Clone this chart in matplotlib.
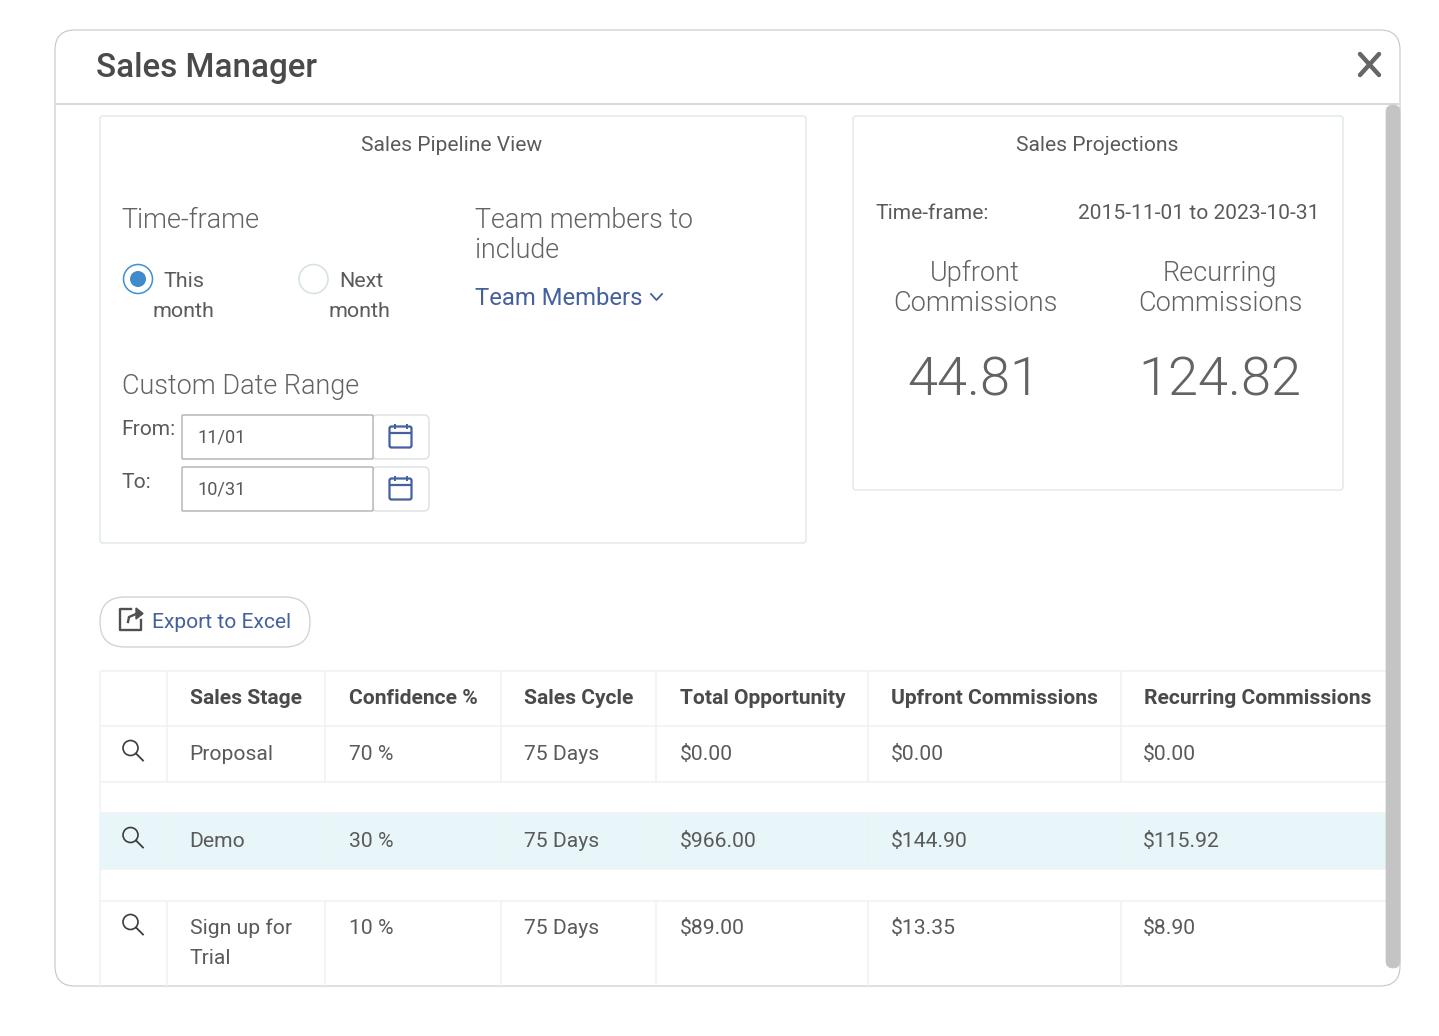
import matplotlib
matplotlib.use('Agg')
import matplotlib.pyplot as plt
from matplotlib.patches import FancyBboxPatch, Rectangle, Circle

plt.rcParams['font.family'] = ['Roboto', 'DejaVu Sans']

# table contents
columns = ['Sales Stage', 'Confidence %', 'Sales Cycle', 'Total Opportunity',
           'Upfront Commissions', 'Recurring Commissions']
stages = ['Proposal', 'Demo', 'Sign up for\nTrial']
confidence = ['70 %', '30 %', '10 %']
cycle = ['75 Days', '75 Days', '75 Days']
opportunity = ['$0.00', '$966.00', '$89.00']
upfront = ['$0.00', '$144.90', '$13.35']
recurring = ['$0.00', '$115.92', '$8.90']

upfront_total = '44.81'
recurring_total = '124.82'
projection_range = '2015-11-01 to 2023-10-31'

W, H = 1439, 1036
DARK = '#4a4a4a'
TEXT = '#5a5a5a'
LIGHT = '#636363'
BLUE = '#45609e'
GRID = '#edf3f3'

fig = plt.figure(figsize=(W / 100, H / 100), dpi=100)
ax = fig.add_axes([0, 0, 1, 1])
ax.set_xlim(0, W)
ax.set_ylim(H, 0)
ax.axis('off')


def px(size):
    return size * 0.72


def label(x, y, s, size=20.5, color=TEXT, weight='normal', ha='left', **kw):
    ax.text(x, y, s, fontsize=px(size), color=color, fontweight=weight, ha=ha,
            va='baseline', **kw)


def box(x0, y0, x1, y1, r=4, fc='white', ec='#e0e7eb', lw=1.0, z=1):
    p = FancyBboxPatch((x0 + r, y0 + r), x1 - x0 - 2 * r, y1 - y0 - 2 * r,
                       boxstyle='round,pad=%d,rounding_size=%d' % (r, r),
                       fc=fc, ec=ec, lw=lw, zorder=z)
    ax.add_patch(p)


def hline(x0, x1, y, color=GRID, lw=1.1, z=3):
    ax.plot([x0, x1], [y, y], color=color, lw=lw, zorder=z, solid_capstyle='butt')


def vline(x, y0, y1, color=GRID, lw=1.1, z=3):
    ax.plot([x, x], [y0, y1], color=color, lw=lw, zorder=z, solid_capstyle='butt')


def calendar(cx, cy):
    ax.add_patch(FancyBboxPatch((cx - 10, cy - 9), 20, 19, boxstyle='round,pad=1,rounding_size=2',
                                fc='none', ec=BLUE, lw=1.6, zorder=5))
    hline(cx - 11, cx + 11, cy - 4, BLUE, 1.6, 5)
    vline(cx - 6, cy - 13, cy - 8, BLUE, 1.4, 5)
    vline(cx + 6, cy - 13, cy - 8, BLUE, 1.4, 5)


def magnifier(cx, cy):
    ax.add_patch(Circle((cx - 2, cy - 3), 7.5, fc='none', ec='#3c3c3c', lw=1.2, zorder=5))
    ax.plot([cx + 3.5, cx + 10.5], [cy + 2.5, cy + 9.5], color='#3c3c3c', lw=1.3, zorder=5)


# modal frame
box(55, 30, 1400, 986, r=20, ec='#c6c6c6', lw=0.8)
hline(56, 1399, 104, '#d9d9d9', 1.5)
label(96, 77.5, 'Sales Manager', 33.1, DARK, 500)
ax.plot([1360, 1379], [54, 75], color='#666666', lw=3.2, zorder=5, solid_capstyle='round')
ax.plot([1379, 1360], [54, 75], color='#666666', lw=3.2, zorder=5, solid_capstyle='round')

# scrollbar
box(1386, 105, 1400, 968, r=7, fc='#c4c4c4', ec='#c4c4c4', lw=0.5, z=6)

# pipeline card
box(100, 116, 806, 543, r=3)
label(452, 151, 'Sales Pipeline View', 21, TEXT, ha='center')
label(121.5, 228, 'Time-frame', 27, LIGHT, 300)
label(475, 228, 'Team members to', 26.85, LIGHT, 300)
label(475, 258, 'include', 26.85, LIGHT, 300)
label(475, 305, 'Team Members', 23.9, BLUE)
ax.plot([651, 656.5, 662], [294, 300, 294], color=BLUE, lw=1.3, zorder=5)

ax.add_patch(Circle((138, 279), 14.5, fc='white', ec='#3f8fd2', lw=1.1, zorder=4))
ax.add_patch(Circle((138, 279), 8, fc='#3f8bcc', ec='none', zorder=5))
ax.add_patch(Circle((313.5, 279), 14.5, fc='white', ec='#d5e0e5', lw=1.1, zorder=4))
label(163.5, 287, 'This', 21.5)
label(152, 317, 'month', 21.5)
label(339.5, 287, 'Next', 21.5)
label(328, 317, 'month', 21.5)

label(122, 393.5, 'Custom Date Range', 27, LIGHT, 300)
for name, y_name, y0, val in [('From:', 435, 415, '11/01'), ('To:', 488, 467, '10/31')]:
    label(121.5, y_name, name, 21, TEXT)
    box(372, y0, 429, y0 + 44, r=5, ec='#dcdfe1', z=2)
    box(182, y0, 373, y0 + 44, r=1, ec='#b0b0b0', z=3)
    label(197.5, y0 + 28, val, 18.3, TEXT)
    calendar(400.5, y0 + 21.5)

# projections card
box(853, 116, 1343, 490, r=3)
label(1097.5, 151, 'Sales Projections', 21, TEXT, ha='center')
label(875, 219, 'Time-frame:', 21, TEXT)
label(1319, 219, projection_range, 21, TEXT, ha='right')
label(975, 281, 'Upfront', 27.1, LIGHT, 300, ha='center')
label(975, 311, 'Commissions', 27.1, LIGHT, 300, ha='center')
label(1220, 281, 'Recurring', 27.1, LIGHT, 300, ha='center')
label(1220, 311, 'Commissions', 27.1, LIGHT, 300, ha='center')
label(974, 395, upfront_total, 54.3, LIGHT, 300, ha='center')
label(1220, 395, recurring_total, 54.3, LIGHT, 300, ha='center')

# export button
box(100, 597, 310, 647, r=25, ec='#d3d3d3')
ax.plot([131, 119.5, 119.5, 141, 141], [609, 609, 630, 630, 620], color='#505050', lw=1.7, zorder=5,
        solid_joinstyle='round')
ax.plot([128, 129, 136, 141], [622, 617, 614, 614], color='#505050', lw=1.7, zorder=5)
ax.fill([136, 143, 136], [608, 613.5, 619], color='#505050', zorder=5)
label(152.5, 628, 'Export to Excel', 21, BLUE)

# table
col_edges = [167, 325, 501, 656, 868, 1121]
text_x = [190, 349, 524, 680, 891, 1143.5]
right = 1386
ax.add_patch(Rectangle((100, 813), right - 100, 56, fc='#e8f5f9', ec='none', zorder=1))
for y in [671, 726, 782, 813, 869, 901]:
    hline(100, right, y)
vline(100, 671, 986)
for x in col_edges:
    for y0, y1 in [(671, 782), (813, 869), (901, 986)]:
        vline(x, y0, y1)

for x, name in zip(text_x, columns):
    label(x, 704.5, name, 20.95, DARK, 'bold')

row_base = [760, 847, 934.5]
row_icon = [751, 838, 925]
rows = list(zip(stages, confidence, cycle, opportunity, upfront, recurring))
for base, icon, row in zip(row_base, row_icon, rows):
    magnifier(132.5, icon)
    for x, val in zip(text_x, row):
        for i, part in enumerate(val.split('\n')):
            label(x - 0.4, base + i * 30, part, 21.2)

fig.savefig('out.png', dpi=100)
